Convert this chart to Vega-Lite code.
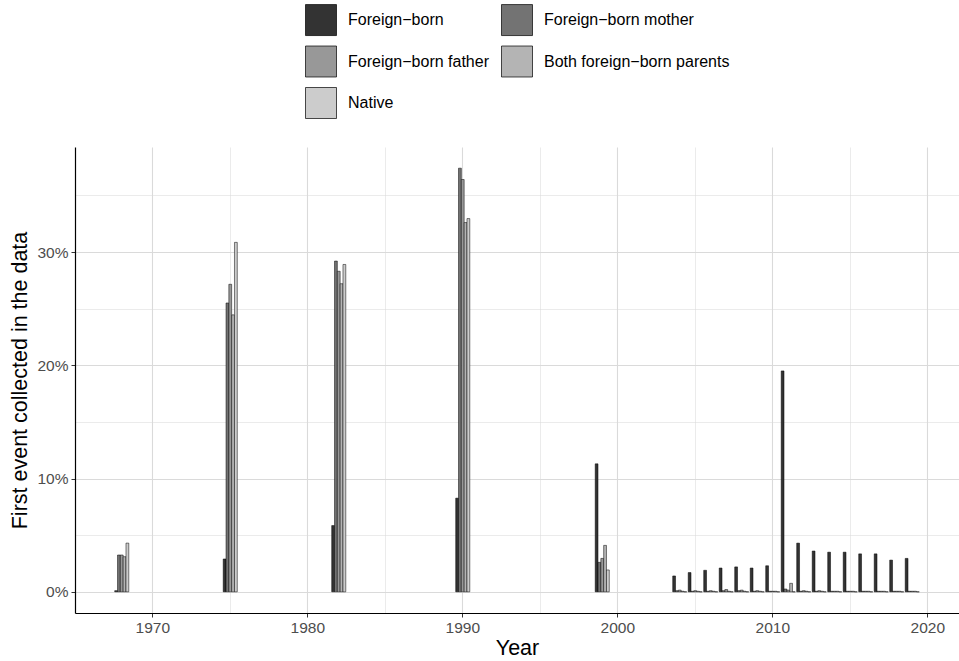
{
  "$schema": "https://vega.github.io/schema/vega-lite/v6.json",
  "width": 884,
  "height": 466,
  "autosize": {"type": "none"},
  "padding": {"left": 75, "top": 147, "right": 0, "bottom": 48},
  "background": "white",
  "config": {
    "font": "Liberation Sans",
    "view": {"stroke": null},
    "axis": {
      "labelFont": "Liberation Sans",
      "titleFont": "Liberation Sans",
      "labelColor": "#4d4d4d",
      "labelFontSize": 15.5,
      "titleFontSize": 21.5,
      "titleFontWeight": "normal",
      "titleColor": "black",
      "domainColor": "black",
      "domainWidth": 1.2,
      "tickColor": "#333333",
      "tickSize": 4,
      "gridColor": "#dadada"
    },
    "legend": {"labelFont": "Liberation Sans", "labelFontSize": 16, "labelColor": "black", "labelLimit": 400}
  },
  "data": {
    "values": [
      {"Year": 1968, "Group": "Foreign−born", "Share": 0.001},
      {"Year": 1968, "Group": "Foreign−born mother", "Share": 0.0325},
      {"Year": 1968, "Group": "Foreign−born father", "Share": 0.0325},
      {"Year": 1968, "Group": "Both foreign−born parents", "Share": 0.031},
      {"Year": 1968, "Group": "Native", "Share": 0.043},
      {"Year": 1975, "Group": "Foreign−born", "Share": 0.029},
      {"Year": 1975, "Group": "Foreign−born mother", "Share": 0.255},
      {"Year": 1975, "Group": "Foreign−born father", "Share": 0.2715},
      {"Year": 1975, "Group": "Both foreign−born parents", "Share": 0.2445},
      {"Year": 1975, "Group": "Native", "Share": 0.3085},
      {"Year": 1982, "Group": "Foreign−born", "Share": 0.0585},
      {"Year": 1982, "Group": "Foreign−born mother", "Share": 0.292},
      {"Year": 1982, "Group": "Foreign−born father", "Share": 0.283},
      {"Year": 1982, "Group": "Both foreign−born parents", "Share": 0.272},
      {"Year": 1982, "Group": "Native", "Share": 0.289},
      {"Year": 1990, "Group": "Foreign−born", "Share": 0.0827},
      {"Year": 1990, "Group": "Foreign−born mother", "Share": 0.374},
      {"Year": 1990, "Group": "Foreign−born father", "Share": 0.364},
      {"Year": 1990, "Group": "Both foreign−born parents", "Share": 0.326},
      {"Year": 1990, "Group": "Native", "Share": 0.3295},
      {"Year": 1999, "Group": "Foreign−born", "Share": 0.113},
      {"Year": 1999, "Group": "Foreign−born mother", "Share": 0.026},
      {"Year": 1999, "Group": "Foreign−born father", "Share": 0.0295},
      {"Year": 1999, "Group": "Both foreign−born parents", "Share": 0.041},
      {"Year": 1999, "Group": "Native", "Share": 0.0193},
      {"Year": 2004, "Group": "Foreign−born", "Share": 0.014},
      {"Year": 2004, "Group": "Foreign−born mother", "Share": 0.001},
      {"Year": 2004, "Group": "Foreign−born father", "Share": 0.0015},
      {"Year": 2004, "Group": "Both foreign−born parents", "Share": 0.0005},
      {"Year": 2004, "Group": "Native", "Share": 0},
      {"Year": 2005, "Group": "Foreign−born", "Share": 0.017},
      {"Year": 2005, "Group": "Foreign−born mother", "Share": 0.0005},
      {"Year": 2005, "Group": "Foreign−born father", "Share": 0.001},
      {"Year": 2005, "Group": "Both foreign−born parents", "Share": 0.0005},
      {"Year": 2005, "Group": "Native", "Share": 0},
      {"Year": 2006, "Group": "Foreign−born", "Share": 0.019},
      {"Year": 2006, "Group": "Foreign−born mother", "Share": 0.0005},
      {"Year": 2006, "Group": "Foreign−born father", "Share": 0.001},
      {"Year": 2006, "Group": "Both foreign−born parents", "Share": 0.0005},
      {"Year": 2006, "Group": "Native", "Share": 0},
      {"Year": 2007, "Group": "Foreign−born", "Share": 0.021},
      {"Year": 2007, "Group": "Foreign−born mother", "Share": 0.001},
      {"Year": 2007, "Group": "Foreign−born father", "Share": 0.002},
      {"Year": 2007, "Group": "Both foreign−born parents", "Share": 0.0005},
      {"Year": 2007, "Group": "Native", "Share": 0},
      {"Year": 2008, "Group": "Foreign−born", "Share": 0.022},
      {"Year": 2008, "Group": "Foreign−born mother", "Share": 0.001},
      {"Year": 2008, "Group": "Foreign−born father", "Share": 0.0015},
      {"Year": 2008, "Group": "Both foreign−born parents", "Share": 0.0005},
      {"Year": 2008, "Group": "Native", "Share": 0},
      {"Year": 2009, "Group": "Foreign−born", "Share": 0.021},
      {"Year": 2009, "Group": "Foreign−born mother", "Share": 0.0005},
      {"Year": 2009, "Group": "Foreign−born father", "Share": 0.001},
      {"Year": 2009, "Group": "Both foreign−born parents", "Share": 0.0005},
      {"Year": 2009, "Group": "Native", "Share": 0},
      {"Year": 2010, "Group": "Foreign−born", "Share": 0.023},
      {"Year": 2010, "Group": "Foreign−born mother", "Share": 0.0005},
      {"Year": 2010, "Group": "Foreign−born father", "Share": 0.0005},
      {"Year": 2010, "Group": "Both foreign−born parents", "Share": 0.0005},
      {"Year": 2010, "Group": "Native", "Share": 0},
      {"Year": 2011, "Group": "Foreign−born", "Share": 0.195},
      {"Year": 2011, "Group": "Foreign−born mother", "Share": 0.0025},
      {"Year": 2011, "Group": "Foreign−born father", "Share": 0.0015},
      {"Year": 2011, "Group": "Both foreign−born parents", "Share": 0.0075},
      {"Year": 2011, "Group": "Native", "Share": 0},
      {"Year": 2012, "Group": "Foreign−born", "Share": 0.043},
      {"Year": 2012, "Group": "Foreign−born mother", "Share": 0.0005},
      {"Year": 2012, "Group": "Foreign−born father", "Share": 0.001},
      {"Year": 2012, "Group": "Both foreign−born parents", "Share": 0.0005},
      {"Year": 2012, "Group": "Native", "Share": 0},
      {"Year": 2013, "Group": "Foreign−born", "Share": 0.036},
      {"Year": 2013, "Group": "Foreign−born mother", "Share": 0.0005},
      {"Year": 2013, "Group": "Foreign−born father", "Share": 0.001},
      {"Year": 2013, "Group": "Both foreign−born parents", "Share": 0.0005},
      {"Year": 2013, "Group": "Native", "Share": 0},
      {"Year": 2014, "Group": "Foreign−born", "Share": 0.035},
      {"Year": 2014, "Group": "Foreign−born mother", "Share": 0.0005},
      {"Year": 2014, "Group": "Foreign−born father", "Share": 0.0005},
      {"Year": 2014, "Group": "Both foreign−born parents", "Share": 0.0005},
      {"Year": 2014, "Group": "Native", "Share": 0},
      {"Year": 2015, "Group": "Foreign−born", "Share": 0.035},
      {"Year": 2015, "Group": "Foreign−born mother", "Share": 0.0005},
      {"Year": 2015, "Group": "Foreign−born father", "Share": 0.0005},
      {"Year": 2015, "Group": "Both foreign−born parents", "Share": 0.0005},
      {"Year": 2015, "Group": "Native", "Share": 0},
      {"Year": 2016, "Group": "Foreign−born", "Share": 0.0335},
      {"Year": 2016, "Group": "Foreign−born mother", "Share": 0.0005},
      {"Year": 2016, "Group": "Foreign−born father", "Share": 0.0005},
      {"Year": 2016, "Group": "Both foreign−born parents", "Share": 0.0005},
      {"Year": 2016, "Group": "Native", "Share": 0},
      {"Year": 2017, "Group": "Foreign−born", "Share": 0.0335},
      {"Year": 2017, "Group": "Foreign−born mother", "Share": 0.0005},
      {"Year": 2017, "Group": "Foreign−born father", "Share": 0.0005},
      {"Year": 2017, "Group": "Both foreign−born parents", "Share": 0.0005},
      {"Year": 2017, "Group": "Native", "Share": 0},
      {"Year": 2018, "Group": "Foreign−born", "Share": 0.028},
      {"Year": 2018, "Group": "Foreign−born mother", "Share": 0.0005},
      {"Year": 2018, "Group": "Foreign−born father", "Share": 0.0005},
      {"Year": 2018, "Group": "Both foreign−born parents", "Share": 0.0005},
      {"Year": 2018, "Group": "Native", "Share": 0},
      {"Year": 2019, "Group": "Foreign−born", "Share": 0.0295},
      {"Year": 2019, "Group": "Foreign−born mother", "Share": 0.0005},
      {"Year": 2019, "Group": "Foreign−born father", "Share": 0.0005},
      {"Year": 2019, "Group": "Both foreign−born parents", "Share": 0.0005},
      {"Year": 2019, "Group": "Native", "Share": 0}
    ]
  },
  "mark": {"type": "bar", "stroke": "black", "strokeWidth": 0.5},
  "encoding": {
    "x": {
      "field": "Year",
      "type": "ordinal",
      "scale": {
        "domain": [1966, 1967, 1968, 1969, 1970, 1971, 1972, 1973, 1974, 1975, 1976, 1977, 1978, 1979, 1980, 1981, 1982, 1983, 1984, 1985, 1986, 1987, 1988, 1989, 1990, 1991, 1992, 1993, 1994, 1995, 1996, 1997, 1998, 1999, 2000, 2001, 2002, 2003, 2004, 2005, 2006, 2007, 2008, 2009, 2010, 2011, 2012, 2013, 2014, 2015, 2016, 2017, 2018, 2019, 2020, 2021],
        "paddingInner": 0,
        "paddingOuter": 0.516
      },
      "axis": {
        "title": "Year",
        "values": [1970, 1975, 1980, 1985, 1990, 1995, 2000, 2005, 2010, 2015, 2020],
        "labelExpr": "datum.value % 10 === 0 ? datum.value : ''",
        "labelAngle": 0,
        "bandPosition": 0.5,
        "grid": true,
        "tickOpacity": {"condition": {"test": "datum.value % 10 === 0", "value": 1}, "value": 0},
        "gridWidth": {"condition": {"test": "datum.value % 10 === 0", "value": 1.1}, "value": 0.55},
        "labelPadding": 3,
        "titlePadding": 2
      }
    },
    "xOffset": {
      "field": "Group",
      "type": "nominal",
      "sort": ["Foreign−born", "Foreign−born mother", "Foreign−born father", "Both foreign−born parents", "Native"],
      "scale": {"paddingInner": 0, "paddingOuter": 0.25}
    },
    "y": {
      "field": "Share",
      "type": "quantitative",
      "stack": null,
      "scale": {"domain": [-0.0187, 0.3927], "nice": false, "zero": false},
      "axis": {
        "title": "First event collected in the data",
        "values": [0, 0.05, 0.1, 0.15, 0.2, 0.25, 0.3, 0.35],
        "format": ".0%",
        "labelExpr": "(round(datum.value*100) % 10 === 0) ? datum.label : ''",
        "tickOpacity": {"condition": {"test": "round(datum.value*100) % 10 === 0", "value": 1}, "value": 0},
        "gridWidth": {"condition": {"test": "round(datum.value*100) % 10 === 0", "value": 1.1}, "value": 0.55},
        "labelPadding": 3,
        "titlePadding": 5
      }
    },
    "fill": {
      "field": "Group",
      "type": "nominal",
      "scale": {
        "domain": ["Foreign−born", "Foreign−born father", "Native", "Foreign−born mother", "Both foreign−born parents"],
        "range": ["#333333", "#989898", "#cccccc", "#737373", "#b4b4b4"]
      },
      "legend": {
        "title": null,
        "orient": "none",
        "legendX": 230,
        "legendY": -143,
        "columns": 2,
        "symbolType": "square",
        "symbolSize": 961,
        "symbolStrokeColor": "black",
        "symbolStrokeWidth": 0.7,
        "symbolOpacity": 1,
        "rowPadding": 7.5,
        "columnPadding": 11,
        "labelOffset": 11,
        "labelLimit": 400
      }
    }
  }
}
